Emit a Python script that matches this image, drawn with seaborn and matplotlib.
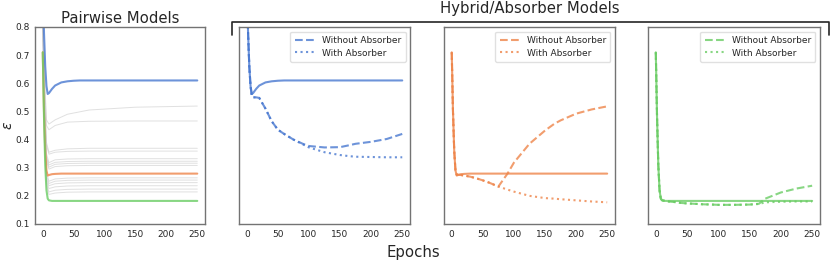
import matplotlib
matplotlib.use('Agg')
import matplotlib.pyplot as plt
from matplotlib.lines import Line2D
import seaborn as sns

EPOCHS = [0, 2, 4, 6, 8, 10, 15, 20, 30, 40, 50, 60, 75, 90, 100, 125, 150, 165, 175, 200, 225, 250]

# pairwise models (solid, shared with the hybrid panels)
BLUE_PAIR   = [0.98, 0.78, 0.66, 0.59, 0.562, 0.565, 0.58, 0.592, 0.603, 0.607, 0.609, 0.61,
               0.61, 0.61, 0.61, 0.61, 0.61, 0.61, 0.61, 0.61, 0.61, 0.61]
ORANGE_PAIR = [0.71, 0.50, 0.36, 0.29, 0.272, 0.274, 0.277, 0.278, 0.279, 0.279, 0.279, 0.279,
               0.279, 0.279, 0.279, 0.279, 0.279, 0.279, 0.279, 0.279, 0.279, 0.279]
GREEN_PAIR  = [0.71, 0.48, 0.31, 0.22, 0.19, 0.184, 0.182, 0.182, 0.182, 0.182, 0.182, 0.182,
               0.182, 0.182, 0.182, 0.182, 0.182, 0.182, 0.182, 0.182, 0.182, 0.182]

# hybrid / absorber models
BLUE_NO_ABS   = [0.98, 0.78, 0.66, 0.59, 0.555, 0.55, 0.55, 0.548, 0.51, 0.465, 0.435, 0.42,
                 0.40, 0.385, 0.377, 0.372, 0.373, 0.38, 0.385, 0.392, 0.402, 0.42]
BLUE_ABS      = [0.98, 0.78, 0.66, 0.59, 0.555, 0.55, 0.55, 0.548, 0.51, 0.465, 0.435, 0.42,
                 0.40, 0.383, 0.372, 0.355, 0.345, 0.341, 0.339, 0.338, 0.337, 0.337]
ORANGE_NO_ABS = [0.71, 0.50, 0.36, 0.29, 0.275, 0.275, 0.274, 0.272, 0.268, 0.262, 0.255, 0.247,
                 0.233, 0.28, 0.318, 0.385, 0.432, 0.456, 0.468, 0.492, 0.507, 0.518]
ORANGE_ABS    = [0.71, 0.50, 0.36, 0.29, 0.275, 0.275, 0.274, 0.272, 0.268, 0.262, 0.255, 0.247,
                 0.233, 0.222, 0.215, 0.20, 0.192, 0.19, 0.188, 0.184, 0.18, 0.177]
GREEN_NO_ABS  = [0.71, 0.48, 0.31, 0.22, 0.19, 0.184, 0.182, 0.18, 0.178, 0.175, 0.173, 0.172,
                 0.17, 0.169, 0.168, 0.168, 0.169, 0.172, 0.19, 0.212, 0.226, 0.236]
GREEN_ABS     = [0.71, 0.48, 0.31, 0.22, 0.19, 0.184, 0.182, 0.18, 0.178, 0.175, 0.173, 0.172,
                 0.17, 0.169, 0.168, 0.168, 0.169, 0.171, 0.177, 0.179, 0.18, 0.18]

# other pairwise runs (light grey background lines)
GRAY_EPOCHS = [0, 3, 6, 10, 20, 40, 75, 150, 250]
GRAY_RUNS = [
    [0.90, 0.62, 0.47, 0.455, 0.47, 0.49, 0.505, 0.515, 0.519],
    [0.90, 0.60, 0.45, 0.435, 0.45, 0.462, 0.465, 0.466, 0.466],
    [0.88, 0.55, 0.39, 0.355, 0.362, 0.367, 0.369, 0.369, 0.369],
    [0.88, 0.55, 0.38, 0.348, 0.355, 0.358, 0.359, 0.359, 0.359],
    [0.86, 0.52, 0.35, 0.318, 0.328, 0.331, 0.332, 0.332, 0.332],
    [0.86, 0.52, 0.34, 0.31, 0.319, 0.322, 0.323, 0.323, 0.323],
    [0.85, 0.50, 0.335, 0.302, 0.312, 0.315, 0.316, 0.316, 0.316],
    [0.85, 0.50, 0.325, 0.295, 0.304, 0.307, 0.308, 0.308, 0.308],
    [0.84, 0.47, 0.285, 0.252, 0.26, 0.263, 0.264, 0.264, 0.264],
    [0.84, 0.46, 0.275, 0.244, 0.252, 0.255, 0.256, 0.256, 0.256],
    [0.83, 0.45, 0.265, 0.236, 0.243, 0.246, 0.247, 0.247, 0.247],
    [0.83, 0.45, 0.255, 0.226, 0.232, 0.235, 0.236, 0.236, 0.236],
    [0.82, 0.44, 0.245, 0.214, 0.22, 0.223, 0.224, 0.224, 0.224],
    [0.82, 0.43, 0.235, 0.205, 0.21, 0.213, 0.214, 0.214, 0.214],
]

X_TICKS = [0, 50, 100, 150, 200, 250]
Y_TICKS = [0.1, 0.2, 0.3, 0.4, 0.5, 0.6, 0.7, 0.8]

BLUE, ORANGE, GREEN = '#4878d0', '#ee854a', '#6acc64'
ALPHA = 0.8

sns.set_style('white')
plt.rcParams['font.family'] = ['DejaVu Sans']
plt.rcParams['axes.edgecolor'] = '0.45'
plt.rcParams['axes.linewidth'] = 1.0

fig = plt.figure(figsize=(8.3, 2.61), dpi=100)
bottom, height = 0.1418, 0.7548
ax1 = fig.add_axes([0.0422, bottom, 0.2048, height])
ax2 = fig.add_axes([0.2880, bottom, 0.2060, height])
ax3 = fig.add_axes([0.5349, bottom, 0.2060, height])
ax4 = fig.add_axes([0.7807, bottom, 0.2072, height])

# pairwise panel
for run in GRAY_RUNS:
    sns.lineplot(x=GRAY_EPOCHS, y=run, ax=ax1, color='0.78', lw=0.7, alpha=0.55)
for vals, col in [(BLUE_PAIR, BLUE), (ORANGE_PAIR, ORANGE), (GREEN_PAIR, GREEN)]:
    sns.lineplot(x=EPOCHS, y=vals, ax=ax1, color=col, lw=1.5, alpha=ALPHA)
ax1.set_title('Pairwise Models', fontsize=10.7, pad=3)
ax1.set_ylabel(r'$\epsilon$', fontsize=10)
ax1.yaxis.set_label_coords(-0.12, 0.5)

# hybrid panels
panels = [
    (ax2, BLUE, BLUE_PAIR, BLUE_NO_ABS, BLUE_ABS),
    (ax3, ORANGE, ORANGE_PAIR, ORANGE_NO_ABS, ORANGE_ABS),
    (ax4, GREEN, GREEN_PAIR, GREEN_NO_ABS, GREEN_ABS),
]
for ax, col, solid, no_abs, with_abs in panels:
    sns.lineplot(x=EPOCHS, y=solid, ax=ax, color=col, lw=1.5, alpha=ALPHA)
    sns.lineplot(x=EPOCHS, y=no_abs, ax=ax, color=col, lw=1.5, alpha=ALPHA,
                 linestyle='--', label='Without Absorber')
    sns.lineplot(x=EPOCHS, y=with_abs, ax=ax, color=col, lw=1.5, alpha=ALPHA,
                 linestyle=':', label='With Absorber')
    ax.legend(loc='upper right', fontsize=6.5, frameon=True, edgecolor='0.85',
              handlelength=2.2, borderpad=0.5, labelspacing=0.4)

for ax in [ax1, ax2, ax3, ax4]:
    ax.set_xlim(-12.5, 262.5)
    ax.set_ylim(0.1, 0.8)
    ax.set_xticks(X_TICKS)
    ax.tick_params(labelsize=6.5, length=0, pad=4)
ax1.set_yticks(Y_TICKS)
ax1.set_yticklabels([f'{t:.1f}' for t in Y_TICKS])
for ax in [ax2, ax3, ax4]:
    ax.set_yticks([])

# bracket over the hybrid panels
x0, x1 = 232 / 830, 829 / 830
y_top, y_low = 1 - 22 / 261, 1 - 35 / 261
fig.add_artist(Line2D([x0, x0, x1, x1], [y_low, y_top, y_top, y_low],
                      transform=fig.transFigure, color='0.15', lw=1.2))
fig.text(0.6386, 0.95, 'Hybrid/Absorber Models', ha='center', va='baseline', fontsize=10.7)
fig.text(0.498, 0.0165, 'Epochs', ha='center', va='baseline', fontsize=10.7)

fig.savefig('out.png', dpi=100)
